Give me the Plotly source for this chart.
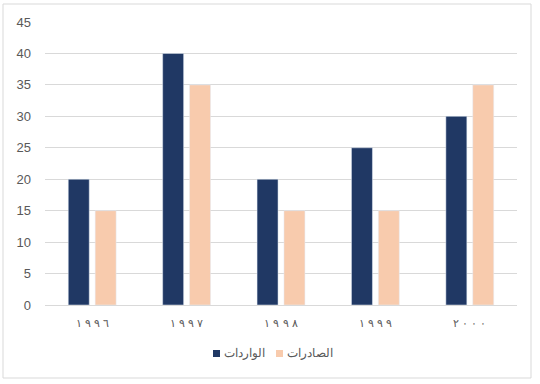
import plotly.graph_objects as go

LRM = "\u200e"
year_digits = ["١٩٩٦", "١٩٩٧", "١٩٩٨", "١٩٩٩", "٢٠٠٠"]
years = [(LRM + " ").join(list(y)) for y in year_digits]
imports_name = "الواردات"
exports_name = "الصادرات"
imports_vals = [20, 40, 20, 25, 30]
exports_vals = [15, 35, 15, 15, 35]
imports_color = "#203864"
exports_color = "#F8CBAD"

fig = go.Figure()
fig.add_trace(go.Bar(x=years, y=imports_vals, name=imports_name, marker_color=imports_color, showlegend=False))
fig.add_trace(go.Bar(x=years, y=exports_vals, name=exports_name, marker_color=exports_color, showlegend=False))

L, R, T, B = 45, 23, 22, 79
W, H = 540, 384
pw, ph = W - L - R, H - T - B


def px(x):
    return (x - L) / pw


def py(y):
    return (T + ph - y) / ph


shapes = [dict(type="rect", xref="paper", yref="paper",
               x0=px(3), x1=px(531), y0=py(378), y1=py(4),
               line=dict(color="#D9D9D9", width=1), fillcolor="rgba(0,0,0,0)", layer="below")]
annotations = []
legend_items = [(imports_name, imports_color, 213), (exports_name, exports_color, 276)]
for name, color, x0 in legend_items:
    shapes.append(dict(type="rect", xref="paper", yref="paper",
                       x0=px(x0), x1=px(x0 + 7), y0=py(357), y1=py(350),
                       line=dict(width=0), fillcolor=color))
    annotations.append(dict(xref="paper", yref="paper", x=px(x0 + 9), y=py(353.5),
                            xanchor="left", yanchor="middle", showarrow=False, text=name,
                            font=dict(size=12, color="#595959")))

fig.update_layout(
    width=W, height=H,
    margin=dict(l=L, r=R, t=T, b=B),
    paper_bgcolor="white", plot_bgcolor="white",
    barmode="group", bargap=0.43, bargroupgap=0.22,
    font=dict(family="Liberation Sans, Arial", color="#595959", size=12),
    showlegend=False,
    xaxis=dict(showgrid=False, showline=True, linecolor="#D9D9D9", linewidth=1, ticks="",
               tickfont=dict(size=11, color="#595959"), fixedrange=True, ticklabelstandoff=8),
    yaxis=dict(range=[0, 45], dtick=5, showgrid=True, gridcolor="#D9D9D9", gridwidth=1,
               zeroline=False, showline=False, ticks="", tickfont=dict(size=13, color="#595959"),
               ticklabelstandoff=13),
    shapes=shapes,
    annotations=annotations,
)

fig.write_html("out.html")
